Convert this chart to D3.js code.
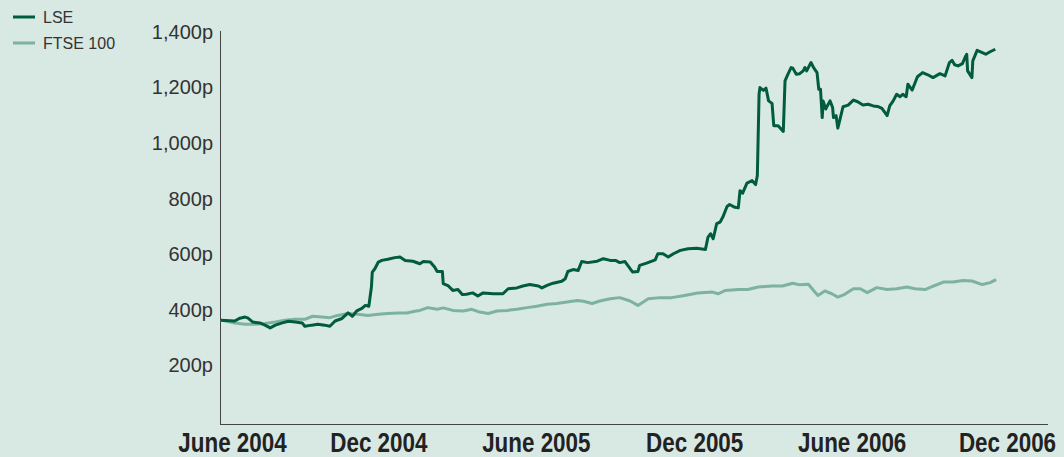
<!DOCTYPE html>
<html>
<head>
<meta charset="utf-8">
<script src="https://cdn.jsdelivr.net/npm/d3@7"></script>
<style>
  body { margin: 0; background: #d8e8e2; }
  svg { display: block; }
</style>
</head>
<body>
<div id="chart"></div>
<script>
// LSE share price (pence)
const lse = [
  ["2004-06-02", 363], ["2004-06-18", 360], ["2004-06-24", 370], ["2004-06-30", 374],
  ["2004-07-03", 371], ["2004-07-09", 356], ["2004-07-17", 353], ["2004-07-23", 345],
  ["2004-07-29", 335], ["2004-08-04", 345], ["2004-08-12", 353], ["2004-08-19", 359],
  ["2004-08-27", 356], ["2004-09-04", 353], ["2004-09-07", 341], ["2004-09-15", 345],
  ["2004-09-22", 348], ["2004-09-30", 345], ["2004-10-06", 341], ["2004-10-12", 360],
  ["2004-10-20", 369], ["2004-10-27", 389], ["2004-11-01", 377], ["2004-11-06", 396],
  ["2004-11-12", 405], ["2004-11-16", 416], ["2004-11-20", 413], ["2004-11-23", 482],
  ["2004-11-24", 536], ["2004-11-27", 548], ["2004-12-01", 572], ["2004-12-05", 578],
  ["2004-12-12", 582], ["2004-12-20", 588], ["2004-12-26", 590], ["2005-01-01", 578],
  ["2005-01-10", 575], ["2005-01-18", 566], ["2005-01-22", 574], ["2005-01-30", 572],
  ["2005-02-04", 554], ["2005-02-07", 538], ["2005-02-13", 538], ["2005-02-14", 494],
  ["2005-02-20", 486], ["2005-02-25", 470], ["2005-03-03", 473], ["2005-03-08", 455],
  ["2005-03-13", 456], ["2005-03-20", 461], ["2005-03-26", 450], ["2005-04-01", 461],
  ["2005-04-13", 458], ["2005-04-24", 458], ["2005-04-30", 476], ["2005-05-10", 479],
  ["2005-05-17", 486], ["2005-05-25", 491], ["2005-06-04", 486], ["2005-06-08", 479],
  ["2005-06-14", 488], ["2005-06-21", 496], ["2005-07-01", 503], ["2005-07-05", 512],
  ["2005-07-08", 538], ["2005-07-14", 545], ["2005-07-20", 542], ["2005-07-24", 574],
  ["2005-07-31", 570], ["2005-08-11", 575], ["2005-08-18", 584], ["2005-08-26", 578],
  ["2005-09-01", 578], ["2005-09-06", 570], ["2005-09-12", 574], ["2005-09-18", 548],
  ["2005-09-21", 536], ["2005-09-27", 538], ["2005-09-29", 560], ["2005-10-07", 568],
  ["2005-10-17", 580], ["2005-10-20", 602], ["2005-10-26", 602], ["2005-11-01", 590],
  ["2005-11-07", 602], ["2005-11-15", 614], ["2005-11-24", 620], ["2005-12-04", 622],
  ["2005-12-14", 617], ["2005-12-17", 662], ["2005-12-20", 674], ["2005-12-23", 656],
  ["2005-12-27", 710], ["2005-12-31", 716], ["2006-01-03", 733], ["2006-01-08", 772],
  ["2006-01-11", 779], ["2006-01-17", 769], ["2006-01-21", 767], ["2006-01-23", 829],
  ["2006-01-26", 820], ["2006-01-31", 856], ["2006-02-06", 865], ["2006-02-10", 851],
  ["2006-02-12", 883], ["2006-02-14", 1176], ["2006-02-15", 1200], ["2006-02-19", 1190],
  ["2006-02-22", 1198], ["2006-02-25", 1152], ["2006-03-01", 1143], ["2006-03-03", 1063],
  ["2006-03-08", 1063], ["2006-03-14", 1042], ["2006-03-16", 1224], ["2006-03-19", 1246],
  ["2006-03-23", 1272], ["2006-03-25", 1270], ["2006-03-29", 1248], ["2006-04-02", 1250],
  ["2006-04-06", 1260], ["2006-04-08", 1272], ["2006-04-10", 1260], ["2006-04-15", 1290],
  ["2006-04-18", 1272], ["2006-04-22", 1254], ["2006-04-24", 1194], ["2006-04-26", 1194],
  ["2006-04-28", 1092], ["2006-04-29", 1152], ["2006-05-02", 1123], ["2006-05-07", 1152],
  ["2006-05-10", 1128], ["2006-05-11", 1092], ["2006-05-14", 1099], ["2006-05-16", 1054],
  ["2006-05-19", 1092], ["2006-05-22", 1131], ["2006-05-28", 1137], ["2006-06-03", 1155],
  ["2006-06-08", 1149], ["2006-06-14", 1137], ["2006-06-20", 1140], ["2006-06-26", 1134],
  ["2006-07-01", 1132], ["2006-07-06", 1125], ["2006-07-12", 1099], ["2006-07-15", 1134],
  ["2006-07-19", 1152], ["2006-07-23", 1176], ["2006-07-27", 1167], ["2006-07-30", 1176],
  ["2006-08-03", 1167], ["2006-08-05", 1212], ["2006-08-10", 1191], ["2006-08-16", 1239],
  ["2006-08-22", 1254], ["2006-08-28", 1246], ["2006-09-03", 1236], ["2006-09-11", 1250],
  ["2006-09-17", 1242], ["2006-09-22", 1290], ["2006-09-25", 1298], ["2006-09-28", 1282],
  ["2006-10-02", 1278], ["2006-10-07", 1286], ["2006-10-10", 1308], ["2006-10-12", 1320],
  ["2006-10-13", 1260], ["2006-10-18", 1236], ["2006-10-19", 1296], ["2006-10-24", 1334],
  ["2006-10-30", 1326], ["2006-11-03", 1320], ["2006-11-08", 1329], ["2006-11-14", 1338]
];

// FTSE 100 rebased to LSE
const ftse = [
  ["2004-06-02", 363], ["2004-06-18", 353], ["2004-06-30", 348], ["2004-07-11", 348],
  ["2004-07-23", 351], ["2004-08-04", 356], ["2004-08-15", 363], ["2004-08-27", 366],
  ["2004-09-07", 366], ["2004-09-16", 377], ["2004-09-27", 374], ["2004-10-06", 372],
  ["2004-10-15", 380], ["2004-10-27", 387], ["2004-11-07", 384], ["2004-11-19", 380],
  ["2004-12-01", 384], ["2004-12-12", 387], ["2004-12-24", 389], ["2005-01-03", 389],
  ["2005-01-12", 395], ["2005-01-18", 398], ["2005-01-27", 408], ["2005-02-07", 402],
  ["2005-02-14", 407], ["2005-02-25", 398], ["2005-03-09", 396], ["2005-03-19", 402],
  ["2005-03-28", 392], ["2005-04-07", 387], ["2005-04-17", 396], ["2005-04-29", 398],
  ["2005-05-10", 402], ["2005-05-22", 408], ["2005-06-02", 413], ["2005-06-14", 420],
  ["2005-06-25", 423], ["2005-07-07", 428], ["2005-07-19", 434], ["2005-07-26", 431],
  ["2005-08-05", 423], ["2005-08-14", 432], ["2005-08-26", 440], ["2005-09-06", 444],
  ["2005-09-18", 432], ["2005-09-27", 416], ["2005-10-09", 440], ["2005-10-23", 444],
  ["2005-11-05", 444], ["2005-11-20", 452], ["2005-12-05", 461], ["2005-12-22", 464],
  ["2005-12-29", 458], ["2006-01-06", 470], ["2006-01-21", 473], ["2006-02-01", 473],
  ["2006-02-13", 482], ["2006-03-01", 486], ["2006-03-13", 486], ["2006-03-25", 496],
  ["2006-04-02", 490], ["2006-04-12", 492], ["2006-04-18", 470], ["2006-04-23", 452],
  ["2006-05-01", 468], ["2006-05-09", 458], ["2006-05-16", 446], ["2006-05-24", 456],
  ["2006-06-03", 476], ["2006-06-11", 476], ["2006-06-19", 462], ["2006-06-30", 480],
  ["2006-07-12", 473], ["2006-07-23", 476], ["2006-08-04", 482], ["2006-08-13", 476],
  ["2006-08-25", 473], ["2006-09-03", 485], ["2006-09-15", 500], ["2006-09-26", 500],
  ["2006-10-08", 506], ["2006-10-18", 504], ["2006-10-30", 491], ["2006-11-08", 498],
  ["2006-11-15", 509]
];

const xTickDates = ["2004-06-01", "2004-12-01", "2005-06-01", "2005-12-01", "2006-06-01", "2006-12-01"];
const xTickLabels = ["June 2004", "Dec 2004", "June 2005", "Dec 2005", "June 2006", "Dec 2006"];
const yTicks = [200, 400, 600, 800, 1000, 1200, 1400];

const width = 1064;
const height = 457;
const parse = d3.timeParse("%Y-%m-%d");

const svg = d3.select("#chart")
    .append("svg")
    .attr("width", width)
    .attr("height", height);

svg.append("rect")
    .attr("width", width)
    .attr("height", height)
    .attr("fill", "#d8e8e2");

// Scales
const x = d3.scaleTime()
    .domain([parse("2004-06-01"), parse("2006-12-01")])
    .range([220, 1010]);

const y = d3.scaleLinear()
    .domain([0, 1400])
    .range([421, 32]);

// Axis lines
svg.append("line")
    .attr("x1", 220.5).attr("x2", 220.5)
    .attr("y1", 31).attr("y2", 424.5)
    .attr("stroke", "#444").attr("stroke-width", 1);

svg.append("line")
    .attr("x1", 220).attr("x2", 1048)
    .attr("y1", 424.5).attr("y2", 424.5)
    .attr("stroke", "#444").attr("stroke-width", 1);

// Y axis labels
const yAxis = svg.append("g")
    .attr("transform", "translate(213,0)")
    .call(d3.axisLeft(y).tickValues(yTicks).tickSize(0).tickPadding(0)
        .tickFormat(d => d3.format(",")(d) + "p"));
yAxis.select(".domain").remove();
yAxis.selectAll("text")
    .attr("font-family", "'Liberation Sans', Arial, sans-serif")
    .attr("font-size", 20)
    .attr("fill", "#333");

// X axis labels, squeezed horizontally to look condensed
const sx = 0.83;
const xAxis = svg.append("g")
    .attr("transform", "translate(0,424)")
    .call(d3.axisBottom(x).tickValues(xTickDates.map(parse)).tickSize(0).tickPadding(0)
        .tickFormat((d, i) => xTickLabels[i]));
xAxis.select(".domain").remove();
xAxis.selectAll("text")
    .attr("y", 28)
    .attr("dy", 0)
    .attr("transform", `scale(${sx},1)`)
    .attr("font-family", "'Liberation Sans', Arial, sans-serif")
    .attr("font-weight", "bold")
    .attr("font-size", 27)
    .attr("fill", "#222");
xAxis.selectAll(".tick text")
    .attr("dx", (d, i) => i === 0 ? 12 / sx : (i === xTickLabels.length - 1 ? -3 / sx : 0));

// Lines
const line = d3.line()
    .x(d => x(parse(d[0])))
    .y(d => y(d[1]));

svg.append("path")
    .datum(ftse)
    .attr("fill", "none")
    .attr("stroke", "#7db39e")
    .attr("stroke-width", 3)
    .attr("stroke-linejoin", "round")
    .attr("d", line);

svg.append("path")
    .datum(lse)
    .attr("fill", "none")
    .attr("stroke", "#005c3c")
    .attr("stroke-width", 3)
    .attr("stroke-linejoin", "round")
    .attr("d", line);

// Legend
const legend = [
    { name: "LSE", color: "#005c3c" },
    { name: "FTSE 100", color: "#7db39e" }
];
const lg = svg.selectAll(".legend")
    .data(legend)
    .enter()
    .append("g")
    .attr("transform", (d, i) => `translate(13,${17 + i * 26})`);
lg.append("line")
    .attr("x1", 0).attr("x2", 22)
    .attr("stroke", d => d.color)
    .attr("stroke-width", 3);
lg.append("text")
    .attr("x", 30)
    .attr("dy", "0.35em")
    .attr("font-family", "'Liberation Sans', Arial, sans-serif")
    .attr("font-size", 16)
    .attr("fill", "#333")
    .text(d => d.name);
</script>
</body>
</html>
